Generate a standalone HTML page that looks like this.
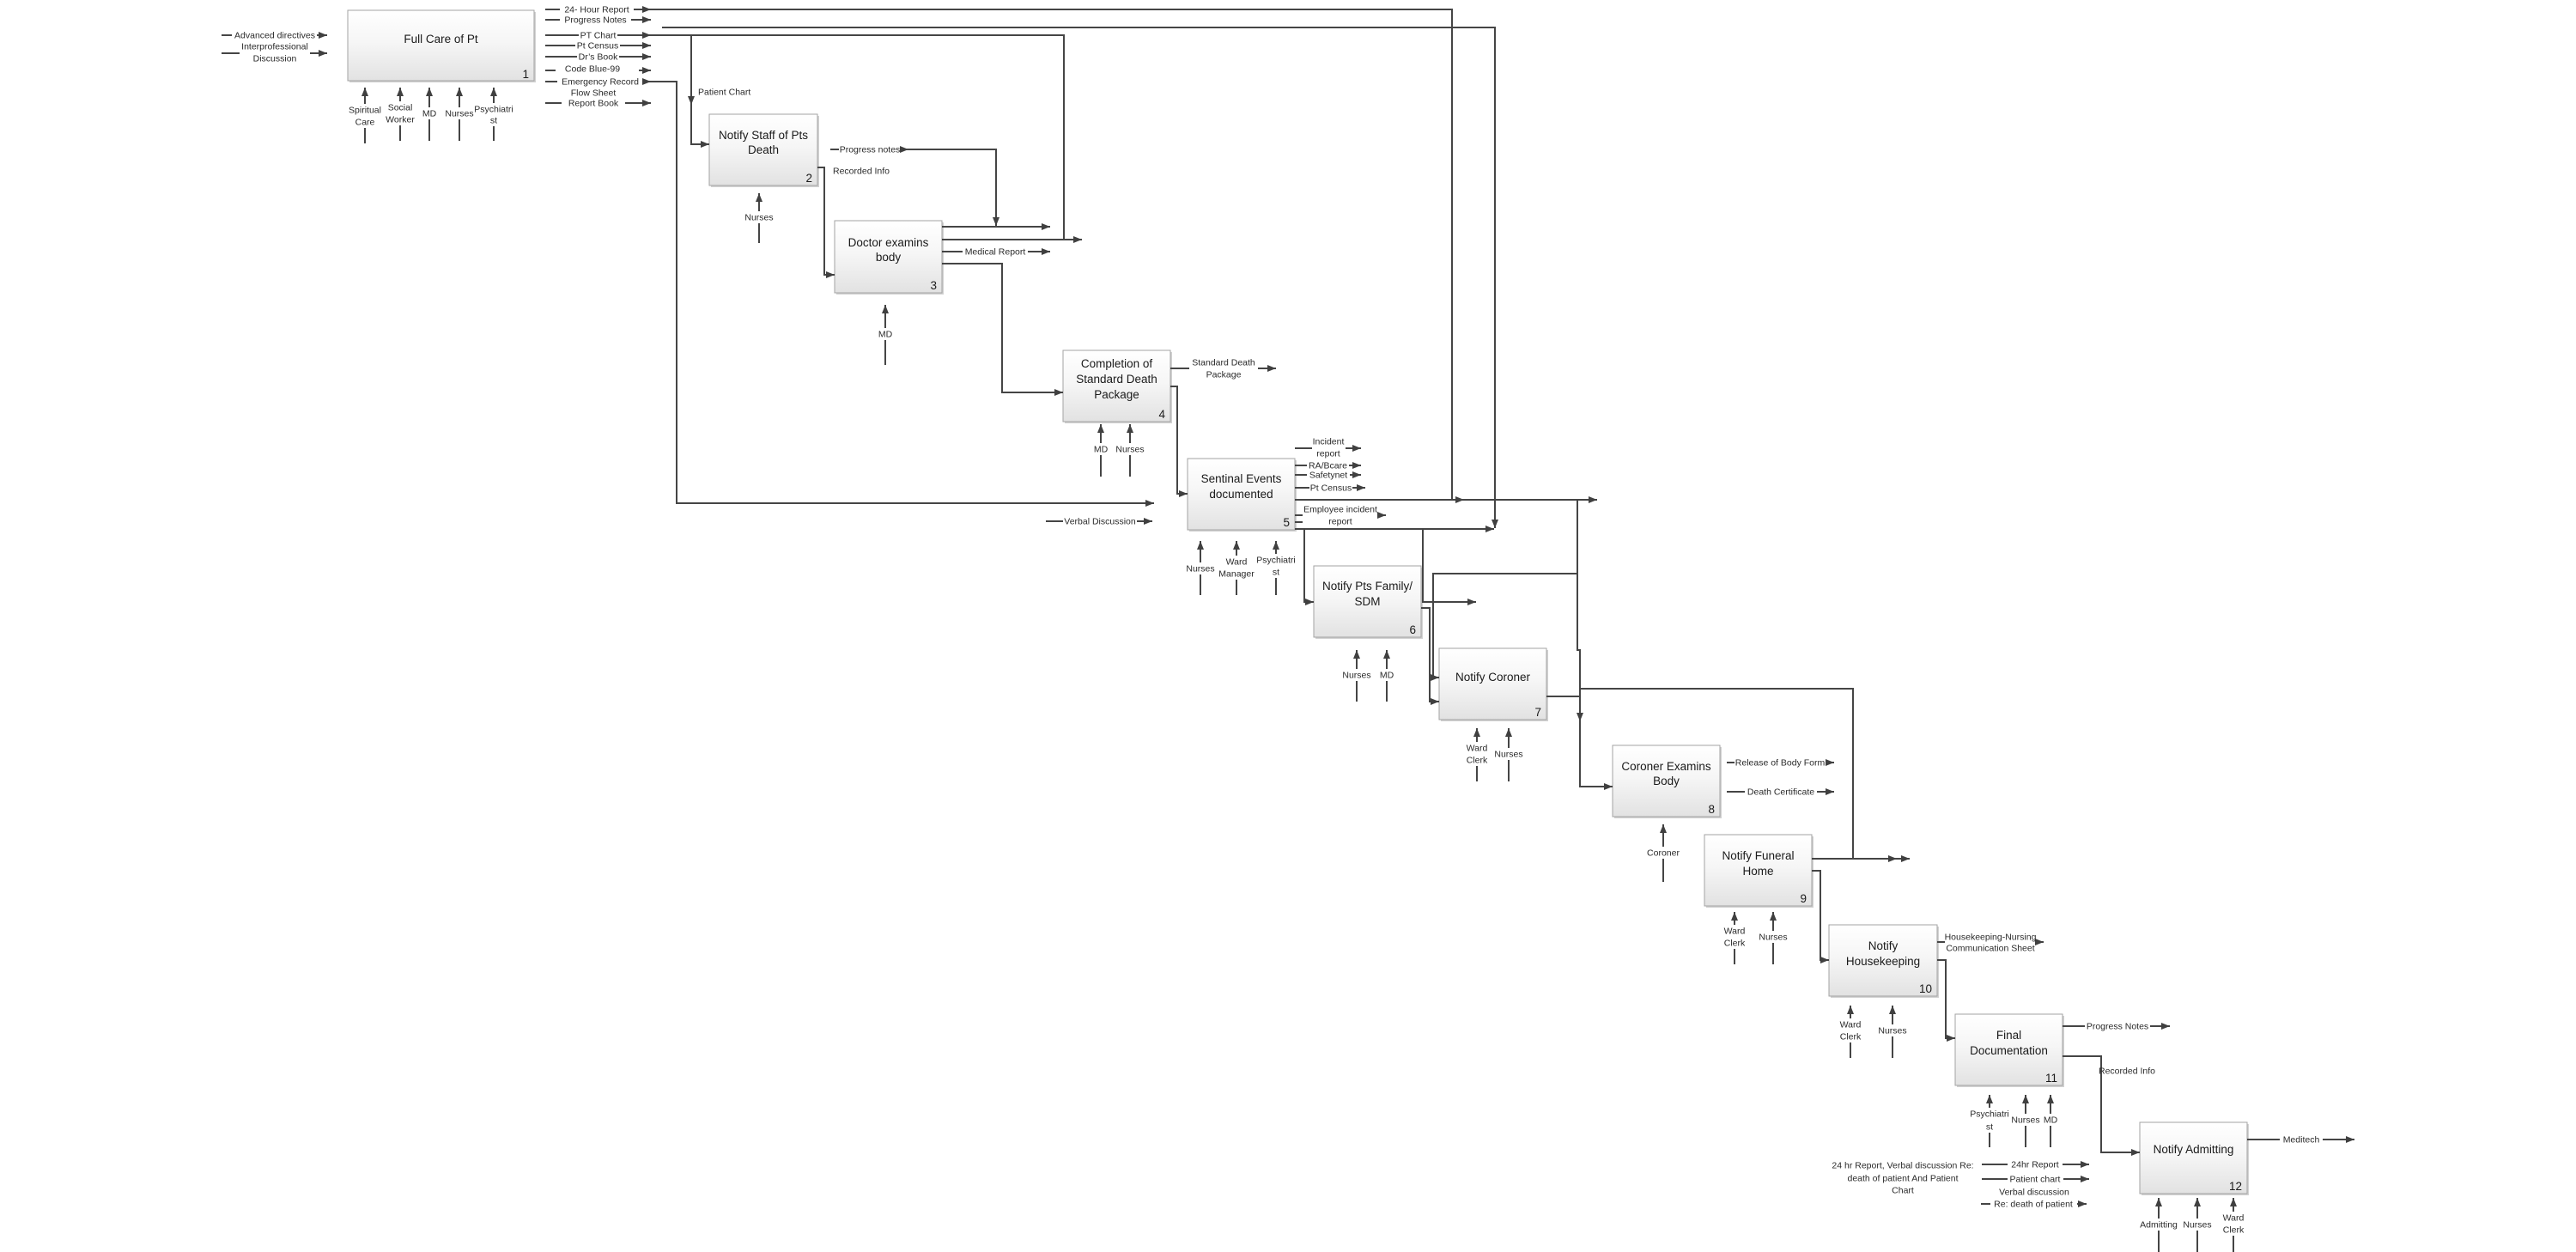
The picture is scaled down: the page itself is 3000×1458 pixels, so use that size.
<!DOCTYPE html>
<html><head><meta charset="utf-8"><title>IDEF0 diagram</title>
<style>
html,body{margin:0;padding:0;background:#fff;}
svg{display:block;}
.l{fill:none;stroke:#454545;stroke-width:2}
.b{fill:url(#g);stroke:#a3a3a3;stroke-width:1}
.s{fill:#d2d2d2}
.t{font-size:10.5px;fill:#2a2a2a;text-anchor:middle}
.ts{font-size:10.5px;fill:#2a2a2a;text-anchor:start}
.T{font-size:13.5px;fill:#1a1a1a;text-anchor:middle}
.n{font-size:13.5px;fill:#1a1a1a;text-anchor:end}
.w{fill:#fff}
</style></head>
<body>
<svg width="3000" height="1458" viewBox="0 0 3000 1458" xmlns="http://www.w3.org/2000/svg" font-family="'Liberation Sans', Arial, sans-serif">
<defs>
<linearGradient id="g" x1="0" y1="0" x2="0" y2="1"><stop offset="0" stop-color="#ffffff"/><stop offset="0.45" stop-color="#f6f6f6"/><stop offset="1" stop-color="#e2e2e2"/></linearGradient>
<marker id="a" viewBox="0 0 10 8" markerWidth="10" markerHeight="8" refX="10" refY="4" orient="auto" markerUnits="userSpaceOnUse"><path d="M0,0L10,4L0,8z" fill="#404040"/></marker>
</defs>
<rect width="3000" height="1458" fill="#fff"/>

<!-- ===== Boxes ===== -->
<g>
<rect class="s" x="407" y="14" width="217" height="82"/><rect class="b" x="405" y="12" width="217" height="82"/>
<rect class="s" x="828" y="135" width="126" height="83"/><rect class="b" x="826" y="133" width="126" height="83"/>
<rect class="s" x="974" y="259" width="125" height="84"/><rect class="b" x="972" y="257" width="125" height="84"/>
<rect class="s" x="1240" y="410" width="125" height="83"/><rect class="b" x="1238" y="408" width="125" height="83"/>
<rect class="s" x="1385" y="536" width="125" height="83"/><rect class="b" x="1383" y="534" width="125" height="83"/>
<rect class="s" x="1532" y="661" width="125" height="83"/><rect class="b" x="1530" y="659" width="125" height="83"/>
<rect class="s" x="1678" y="757" width="125" height="83"/><rect class="b" x="1676" y="755" width="125" height="83"/>
<rect class="s" x="1880" y="870" width="125" height="83"/><rect class="b" x="1878" y="868" width="125" height="83"/>
<rect class="s" x="1987" y="974" width="125" height="83"/><rect class="b" x="1985" y="972" width="125" height="83"/>
<rect class="s" x="2132" y="1079" width="126" height="83"/><rect class="b" x="2130" y="1077" width="126" height="83"/>
<rect class="s" x="2279" y="1183" width="125" height="83"/><rect class="b" x="2277" y="1181" width="125" height="83"/>
<rect class="s" x="2494" y="1309" width="125" height="83"/><rect class="b" x="2492" y="1307" width="125" height="83"/>
</g>

<!-- Box titles and numbers -->
<text class="T" x="513.5" y="50">Full Care of Pt</text><text class="n" x="616" y="91">1</text>
<text class="T" x="889" y="162">Notify Staff of Pts</text><text class="T" x="889" y="179">Death</text><text class="n" x="946" y="212">2</text>
<text class="T" x="1034.5" y="287">Doctor examins</text><text class="T" x="1034.5" y="304">body</text><text class="n" x="1091" y="337">3</text>
<text class="T" x="1300.5" y="428">Completion of</text><text class="T" x="1300.5" y="446">Standard Death</text><text class="T" x="1300.5" y="464">Package</text><text class="n" x="1357" y="487">4</text>
<text class="T" x="1445.5" y="562">Sentinal Events</text><text class="T" x="1445.5" y="580">documented</text><text class="n" x="1502" y="613">5</text>
<text class="T" x="1592.5" y="687">Notify Pts Family/</text><text class="T" x="1592.5" y="705">SDM</text><text class="n" x="1649" y="738">6</text>
<text class="T" x="1738.5" y="793">Notify Coroner</text><text class="n" x="1795" y="834">7</text>
<text class="T" x="1940.5" y="897">Coroner Examins</text><text class="T" x="1940.5" y="914">Body</text><text class="n" x="1997" y="947">8</text>
<text class="T" x="2047.5" y="1001">Notify Funeral</text><text class="T" x="2047.5" y="1019">Home</text><text class="n" x="2104" y="1051">9</text>
<text class="T" x="2193" y="1106">Notify</text><text class="T" x="2193" y="1124">Housekeeping</text><text class="n" x="2250" y="1156">10</text>
<text class="T" x="2339.5" y="1210">Final</text><text class="T" x="2339.5" y="1228">Documentation</text><text class="n" x="2396" y="1260">11</text>
<text class="T" x="2554.5" y="1343">Notify Admitting</text><text class="n" x="2611" y="1386">12</text>

<!-- ===== Connectors ===== -->
<g marker-end="none">
<!-- Box 1 inputs -->
<path class="l" d="M258,41H270"/><path class="l" d="M369,41H381" marker-end="url(#a)"/>
<path class="l" d="M258,62H279"/><path class="l" d="M361,62H381" marker-end="url(#a)"/>

<!-- Box 1 outputs -->
<path class="l" d="M635,11H652"/><path class="l" d="M738,11H758" marker-end="url(#a)"/>
<path class="l" d="M635,23H652"/><path class="l" d="M735,23H758" marker-end="url(#a)"/>
<path class="l" d="M635,41H674"/><path class="l" d="M719,41H758" marker-end="url(#a)"/>
<path class="l" d="M635,53H670"/><path class="l" d="M722,53H758" marker-end="url(#a)"/>
<path class="l" d="M635,66H672"/><path class="l" d="M721,66H758" marker-end="url(#a)"/>
<path class="l" d="M635,82H647"/><path class="l" d="M744,82H758" marker-end="url(#a)"/>
<path class="l" d="M635,95H649"/><path class="l" d="M749,95H758" marker-end="url(#a)"/>
<path class="l" d="M635,120H654"/><path class="l" d="M728,120H758" marker-end="url(#a)"/>

<!-- long lines -->
<path class="l" d="M758,11H1691V582"/>
<path class="l" d="M771,32H1741V615" marker-end="url(#a)"/>
<path class="l" d="M758,41H1239V279"/>
<path class="l" d="M805,41V122" marker-end="url(#a)"/>
<path class="l" d="M805,120V168H826" marker-end="url(#a)"/>
<path class="l" d="M758,95H788V586H1344" marker-end="url(#a)"/>

<!-- Box 1 mechanisms -->
<path class="l" d="M425,167V102" marker-end="url(#a)"/>
<path class="l" d="M466,164V102" marker-end="url(#a)"/>
<path class="l" d="M500,164V102" marker-end="url(#a)"/>
<path class="l" d="M535,164V102" marker-end="url(#a)"/>
<path class="l" d="M575,164V102" marker-end="url(#a)"/>

<!-- Box 2 -->
<path class="l" d="M884,283V225" marker-end="url(#a)"/>
<path class="l" d="M967,174H977"/><path class="l" d="M1049,174H1058" marker-end="url(#a)"/>
<path class="l" d="M1056,174H1160V263" marker-end="url(#a)"/>
<path class="l" d="M952,195H960V320H972" marker-end="url(#a)"/>

<!-- Box 3 -->
<path class="l" d="M1097,264H1223" marker-end="url(#a)"/>
<path class="l" d="M1097,279H1260" marker-end="url(#a)"/>
<path class="l" d="M1097,293H1121"/><path class="l" d="M1197,293H1223" marker-end="url(#a)"/>
<path class="l" d="M1097,307H1167V457H1238" marker-end="url(#a)"/>
<path class="l" d="M1031,425V355" marker-end="url(#a)"/>

<!-- Box 4 -->
<path class="l" d="M1363,429H1385"/><path class="l" d="M1465,429H1486" marker-end="url(#a)"/>
<path class="l" d="M1363,450H1371V575H1383" marker-end="url(#a)"/>
<path class="l" d="M1282,555V494" marker-end="url(#a)"/>
<path class="l" d="M1316,555V494" marker-end="url(#a)"/>

<!-- Box 5 -->
<path class="l" d="M1218,607H1238"/><path class="l" d="M1324,607H1342" marker-end="url(#a)"/>
<path class="l" d="M1508,522H1528"/><path class="l" d="M1567,522H1585" marker-end="url(#a)"/>
<path class="l" d="M1508,542H1522"/><path class="l" d="M1571,542H1585" marker-end="url(#a)"/>
<path class="l" d="M1508,553H1522"/><path class="l" d="M1572,553H1585" marker-end="url(#a)"/>
<path class="l" d="M1508,568H1525"/><path class="l" d="M1575,568H1590" marker-end="url(#a)"/>
<path class="l" d="M1508,582H1705" marker-end="url(#a)"/>
<path class="l" d="M1690,582H1860" marker-end="url(#a)"/>
<path class="l" d="M1508,600H1517"/><path class="l" d="M1508,608H1517"/>
<path class="l" d="M1604,600H1614" marker-end="url(#a)"/>
<path class="l" d="M1508,616H1740" marker-end="url(#a)"/>
<path class="l" d="M1519,616V701H1530" marker-end="url(#a)"/>
<path class="l" d="M1657,616V701H1719" marker-end="url(#a)"/>
<path class="l" d="M1398,693V630" marker-end="url(#a)"/>
<path class="l" d="M1440,693V630" marker-end="url(#a)"/>
<path class="l" d="M1486,693V630" marker-end="url(#a)"/>

<!-- Box 6 -->
<path class="l" d="M1655,708H1665V817H1676" marker-end="url(#a)"/>
<path class="l" d="M1580,817V757" marker-end="url(#a)"/>
<path class="l" d="M1615,817V757" marker-end="url(#a)"/>

<!-- Box 7 -->
<path class="l" d="M1837,668H1669V789H1676" marker-end="url(#a)"/>
<path class="l" d="M1837,582V757H1840V840" marker-end="url(#a)"/>
<path class="l" d="M1840,838V916H1878" marker-end="url(#a)"/>
<path class="l" d="M1801,811H1840"/>
<path class="l" d="M1840,802H2158V1000"/>
<path class="l" d="M1720,910V848" marker-end="url(#a)"/>
<path class="l" d="M1757,910V848" marker-end="url(#a)"/>

<!-- Box 8 -->
<path class="l" d="M2011,888H2020"/><path class="l" d="M2126,888H2136" marker-end="url(#a)"/>
<path class="l" d="M2011,922H2032"/><path class="l" d="M2116,922H2136" marker-end="url(#a)"/>
<path class="l" d="M1937,1027V960" marker-end="url(#a)"/>

<!-- Box 9 -->
<path class="l" d="M2110,1000H2209" marker-end="url(#a)"/>
<path class="l" d="M2207,1000H2224" marker-end="url(#a)"/>
<path class="l" d="M2110,1014H2120V1118H2130" marker-end="url(#a)"/>
<path class="l" d="M2020,1123V1062" marker-end="url(#a)"/>
<path class="l" d="M2065,1123V1062" marker-end="url(#a)"/>

<!-- Box 10 -->
<path class="l" d="M2256,1097H2265"/><path class="l" d="M2370,1097H2380" marker-end="url(#a)"/>
<path class="l" d="M2256,1118H2266V1209H2277" marker-end="url(#a)"/>
<path class="l" d="M2155,1232V1171" marker-end="url(#a)"/>
<path class="l" d="M2204,1232V1171" marker-end="url(#a)"/>

<!-- Box 11 -->
<path class="l" d="M2402,1195H2428"/><path class="l" d="M2504,1195H2527" marker-end="url(#a)"/>
<path class="l" d="M2402,1230H2447V1342H2492" marker-end="url(#a)"/>
<path class="l" d="M2317,1336V1275" marker-end="url(#a)"/>
<path class="l" d="M2359,1336V1275" marker-end="url(#a)"/>
<path class="l" d="M2388,1336V1275" marker-end="url(#a)"/>

<!-- Box 12 -->
<path class="l" d="M2617,1327H2655"/><path class="l" d="M2705,1327H2742" marker-end="url(#a)"/>
<path class="l" d="M2514,1458V1395" marker-end="url(#a)"/>
<path class="l" d="M2559,1458V1395" marker-end="url(#a)"/>
<path class="l" d="M2601,1458V1395" marker-end="url(#a)"/>

<!-- Bottom inputs -->
<path class="l" d="M2308,1356H2338"/><path class="l" d="M2402,1356H2433" marker-end="url(#a)"/>
<path class="l" d="M2308,1373H2338"/><path class="l" d="M2403,1373H2433" marker-end="url(#a)"/>
<path class="l" d="M2307,1402H2318"/><path class="l" d="M2419,1402H2430" marker-end="url(#a)"/>
</g>

<!-- ===== Mechanism label backgrounds ===== -->
<g class="w">
<rect x="404" y="121" width="42" height="28"/>
<rect x="447" y="118" width="38" height="28"/>
<rect x="490" y="125" width="20" height="14"/>
<rect x="516" y="125" width="38" height="14"/>
<rect x="550" y="120" width="50" height="27"/>
<rect x="865" y="246" width="38" height="14"/>
<rect x="1021" y="382" width="20" height="14"/>
<rect x="1272" y="516" width="20" height="14"/>
<rect x="1297" y="516" width="38" height="14"/>
<rect x="1379" y="655" width="38" height="14"/>
<rect x="1417" y="647" width="46" height="28"/>
<rect x="1461" y="645" width="50" height="28"/>
<rect x="1561" y="779" width="38" height="14"/>
<rect x="1605" y="779" width="20" height="14"/>
<rect x="1705" y="864" width="30" height="28"/>
<rect x="1738" y="871" width="38" height="14"/>
<rect x="1916" y="986" width="42" height="14"/>
<rect x="2005" y="1077" width="30" height="28"/>
<rect x="2046" y="1084" width="38" height="14"/>
<rect x="2140" y="1186" width="30" height="28"/>
<rect x="2185" y="1193" width="38" height="14"/>
<rect x="2292" y="1290" width="50" height="29"/>
<rect x="2341" y="1297" width="36" height="14"/>
<rect x="2379" y="1297" width="18" height="14"/>
<rect x="2491" y="1419" width="46" height="14"/>
<rect x="2541" y="1419" width="36" height="14"/>
<rect x="2586" y="1411" width="30" height="28"/>
</g>

<!-- ===== Labels ===== -->
<g>
<!-- Box 1 inputs -->
<text class="t" x="320" y="44.5">Advanced directives</text>
<text class="t" x="320" y="57.5">Interprofessional</text>
<text class="t" x="320" y="71.5">Discussion</text>
<!-- Box 1 outputs -->
<text class="t" x="695" y="14.5">24- Hour Report</text>
<text class="t" x="693.5" y="26.5">Progress Notes</text>
<text class="t" x="696.5" y="44.5">PT Chart</text>
<text class="t" x="696" y="56.5">Pt Census</text>
<text class="t" x="696.5" y="69.5">Dr’s Book</text>
<text class="t" x="690" y="83.5">Code Blue-99</text>
<text class="t" x="699" y="98.5">Emergency Record</text>
<text class="t" x="691" y="111.5">Flow Sheet</text>
<text class="t" x="691" y="123.5">Report Book</text>
<text class="ts" x="813" y="110.5">Patient Chart</text>
<!-- Box 1 mechs -->
<text class="t" x="425" y="131.5">Spiritual</text><text class="t" x="425" y="145.5">Care</text>
<text class="t" x="466" y="128.5">Social</text><text class="t" x="466" y="142.5">Worker</text>
<text class="t" x="500" y="135.5">MD</text>
<text class="t" x="535" y="135.5">Nurses</text>
<text class="t" x="575" y="130.5">Psychiatri</text><text class="t" x="575" y="143.5">st</text>
<!-- Box 2 -->
<text class="t" x="884" y="256.5">Nurses</text>
<text class="t" x="1013" y="177.5">Progress notes</text>
<text class="ts" x="970" y="202.5">Recorded Info</text>
<!-- Box 3 -->
<text class="t" x="1159" y="296.5">Medical Report</text>
<text class="t" x="1031" y="392.5">MD</text>
<!-- Box 4 -->
<text class="t" x="1425" y="425.5">Standard Death</text>
<text class="t" x="1425" y="439.5">Package</text>
<text class="t" x="1282" y="526.5">MD</text>
<text class="t" x="1316" y="526.5">Nurses</text>
<!-- Box 5 -->
<text class="t" x="1281" y="610.5">Verbal Discussion</text>
<text class="t" x="1547" y="517.5">Incident</text>
<text class="t" x="1547" y="531.5">report</text>
<text class="t" x="1546.5" y="545.5">RA/Bcare</text>
<text class="t" x="1547" y="556.5">Safetynet</text>
<text class="t" x="1550" y="571.5">Pt Census</text>
<text class="t" x="1561" y="596.5">Employee incident</text>
<text class="t" x="1561" y="610.5">report</text>
<text class="t" x="1398" y="665.5">Nurses</text>
<text class="t" x="1440" y="657.5">Ward</text><text class="t" x="1440" y="671.5">Manager</text>
<text class="t" x="1486" y="655.5">Psychiatri</text><text class="t" x="1486" y="669.5">st</text>
<!-- Box 6 -->
<text class="t" x="1580" y="789.5">Nurses</text>
<text class="t" x="1615" y="789.5">MD</text>
<!-- Box 7 -->
<text class="t" x="1720" y="874.5">Ward</text><text class="t" x="1720" y="888.5">Clerk</text>
<text class="t" x="1757" y="881.5">Nurses</text>
<!-- Box 8 -->
<text class="t" x="2073" y="891.5">Release of Body Form</text>
<text class="t" x="2074" y="925.5">Death Certificate</text>
<text class="t" x="1937" y="996.5">Coroner</text>
<!-- Box 9 -->
<text class="t" x="2020" y="1087.5">Ward</text><text class="t" x="2020" y="1101.5">Clerk</text>
<text class="t" x="2065" y="1094.5">Nurses</text>
<!-- Box 10 -->
<text class="t" x="2318" y="1094.5">Housekeeping-Nursing</text>
<text class="t" x="2318" y="1107.5">Communication Sheet</text>
<text class="t" x="2155" y="1196.5">Ward</text><text class="t" x="2155" y="1210.5">Clerk</text>
<text class="t" x="2204" y="1203.5">Nurses</text>
<!-- Box 11 -->
<text class="t" x="2466" y="1198.5">Progress Notes</text>
<text class="ts" x="2444" y="1250.5">Recorded Info</text>
<text class="t" x="2317" y="1300.5">Psychiatri</text><text class="t" x="2317" y="1315.5">st</text>
<text class="t" x="2359" y="1307.5">Nurses</text>
<text class="t" x="2388" y="1307.5">MD</text>
<!-- Box 12 -->
<text class="t" x="2680" y="1330.5">Meditech</text>
<text class="t" x="2514" y="1429.5">Admitting</text>
<text class="t" x="2559" y="1429.5">Nurses</text>
<text class="t" x="2601" y="1421.5">Ward</text><text class="t" x="2601" y="1435.5">Clerk</text>
<!-- Bottom -->
<text class="t" x="2216" y="1360.5">24 hr Report, Verbal discussion Re:</text>
<text class="t" x="2216" y="1375.5">death of patient And Patient</text>
<text class="t" x="2216" y="1389.5">Chart</text>
<text class="t" x="2370" y="1359.5">24hr Report</text>
<text class="t" x="2370" y="1376.5">Patient chart</text>
<text class="t" x="2369" y="1391.5">Verbal discussion</text>
<text class="t" x="2368" y="1405.5">Re: death of patient</text>
</g>
</svg>
</body></html>
